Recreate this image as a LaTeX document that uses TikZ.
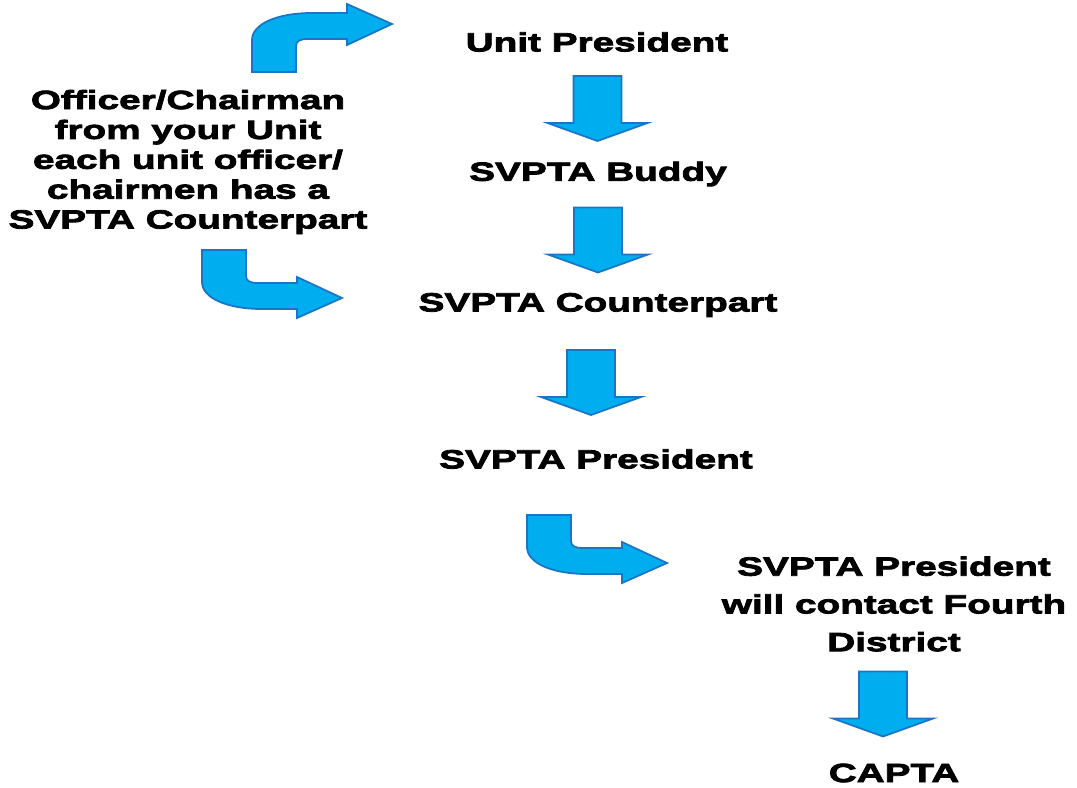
\documentclass[tikz,border=0pt]{standalone}
\usepackage{fontspec}
\setmainfont{Liberation Sans}[FakeStretch=1.47,FakeBold=3]
\usetikzlibrary{calc}
\definecolor{arrowfill}{RGB}{0,174,239}
\definecolor{arrowline}{RGB}{28,117,196}

\begin{document}
\begin{tikzpicture}[x=0.02cm,y=-0.02cm,
        lbl/.style={font=\fontsize{15}{21.5}\selectfont\bfseries,align=center,inner sep=0pt},
        side/.style={lbl,font=\fontsize{15}{17}\selectfont\bfseries},
        blk/.style={draw=arrowline,fill=arrowfill,line width=1pt,line join=miter},
        downarrow/.pic={\draw[blk] (-24,-32) -- (24,-32) -- (24,15) -- (50,15) -- (0,33) -- (-50,15) -- (-24,15) -- cycle;},
        bentarrow/.pic={\draw[blk] (0,0) -- (44,0) -- (44,26) .. controls (44,31) and (48,33) .. (56,33) -- (95,33) -- (95,27) -- (140,48) -- (95,68) -- (95,59) -- (60,59) .. controls (25,59) and (0,48) .. (0,32) -- cycle;}
      ]
      \useasboundingbox (0,0) rectangle (1077,787);
      \node[lbl] (unit) at (597,42) {Unit President};
      \node[lbl] (buddy) at (598,174) {SVPTA Buddy};
      \node[lbl] (counter) at (598,305) {SVPTA Counterpart};
      \node[lbl] (svpres) at (596,459) {SVPTA President};
      \node[lbl] (fourth) at (894,604) {SVPTA President\\will contact Fourth\\District};
      \node[lbl] (capta) at (894,773) {CAPTA};
      \node[side] (officer) at (188,162) {Officer/Chairman\\from your Unit\\each unit officer/\\chairmen has a\\SVPTA Counterpart};
      % straight arrows down the chain
      \pic at ($(unit)!0.5!(buddy)$) {downarrow};
      \pic at ($(buddy)!0.5!(counter)$) {downarrow};
      \pic at ($(counter)!0.5!(svpres)+(-6,0)$) {downarrow};
      \pic at ($(fourth)!0.5!(capta)+(-11,15)$) {downarrow};
      % bent arrows
      \pic[yscale=-1] at (252,72) {bentarrow};
      \pic at (202,250) {bentarrow};
      \pic at (527,515) {bentarrow};
    \end{tikzpicture}
\end{document}
